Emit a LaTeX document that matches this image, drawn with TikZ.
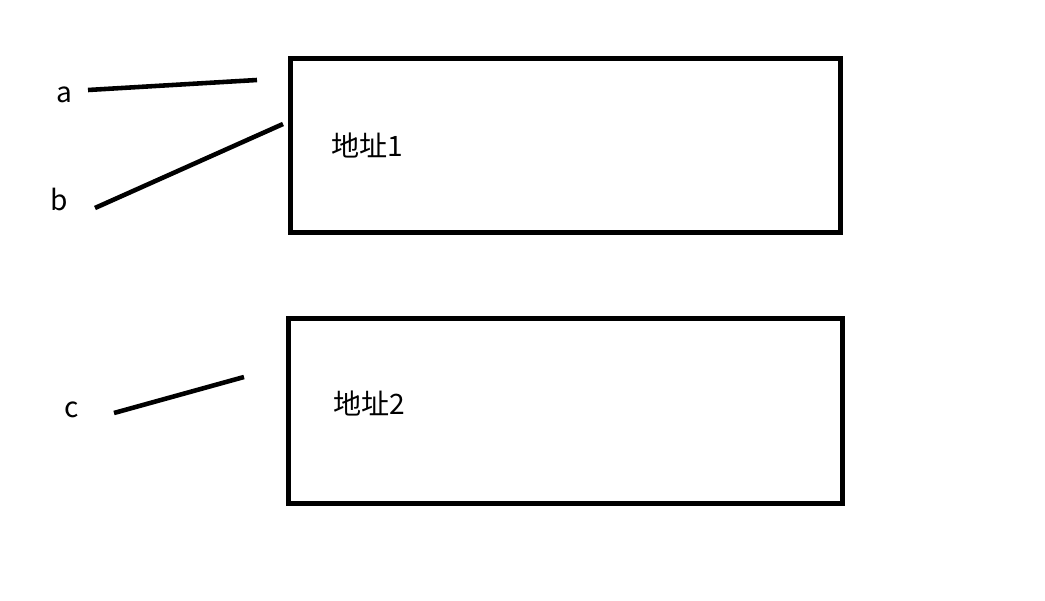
\documentclass[tikz,border=0pt]{standalone}
\usepackage{fontspec}
\setmainfont{Noto Sans CJK SC}
\usetikzlibrary{positioning}
\tikzset{
    addrbox/.style={draw, line width=2.8pt, minimum width=11cm, anchor=north west, inner sep=0pt},
    ptrline/.style={line width=2.6pt},
    lbl/.style={font=\fontsize{16}{18}\selectfont, inner sep=0pt}
}
\begin{document}
\begin{tikzpicture}[x=0.02cm, y=-0.02cm]
        \useasboundingbox (0,0) rectangle (1045,601);

        \node[addrbox, minimum width=11cm, minimum height=3.48cm] (box1) at (288,56) {};
        \node[addrbox, minimum width=11.08cm, minimum height=3.7cm] (box2) at (286,316) {};
        \node[lbl, anchor=west] (t1) at (331,145) {地址1};
        \node[lbl, anchor=west] (t2) at (333,403) {地址2};

        \node[lbl] (a) at (64,95) {a};
        \node[lbl] (b) at (59,199) {b};
        \node[lbl] (c) at (72,410) {c};

        \coordinate (a0) at (88,90);  \coordinate (a1) at (257,80);
        \coordinate (b0) at (95,208); \coordinate (b1) at (283,124);
        \coordinate (c0) at (114,413); \coordinate (c1) at (244,377);

        \draw[ptrline] (a0) -- (a1);
        \draw[ptrline] (b0) -- (b1);
        \draw[ptrline] (c0) -- (c1);
\end{tikzpicture}
\end{document}
